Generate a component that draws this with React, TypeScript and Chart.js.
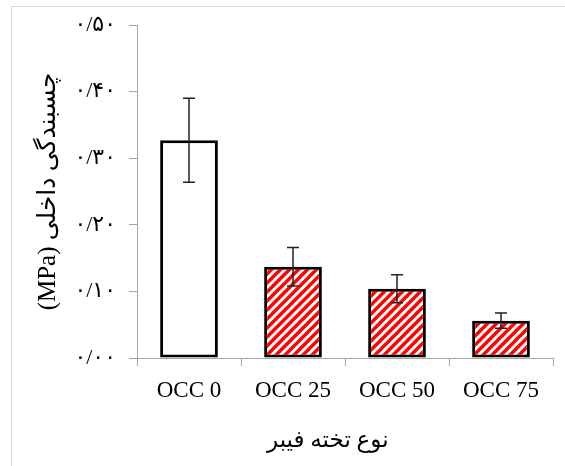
import React, { useEffect, useRef } from "react";
import { Chart, registerables } from "chart.js";

Chart.register(...registerables);

const categories = ["OCC 0", "OCC 25", "OCC 50", "OCC 75"];
const values = [0.327, 0.137, 0.104, 0.056];
const errors = [0.063, 0.029, 0.021, 0.0115];
const yTickLabels = ["۰/۰۰", "۰/۱۰", "۰/۲۰", "۰/۳۰", "۰/۴۰", "۰/۵۰"];
const yTitle = "چسبندگی داخلی (MPa)";
const xTitle = "نوع تخته فیبر";

const FONT = "'Times New Roman', 'Liberation Serif', 'DejaVu Sans', serif";

function makeHatch(): CanvasPattern | string {
  const s = 9;
  const c = document.createElement("canvas");
  c.width = s;
  c.height = s;
  const g = c.getContext("2d");
  if (!g) return "#ff0000";
  g.fillStyle = "#ffffff";
  g.fillRect(0, 0, s, s);
  g.strokeStyle = "#ff0000";
  g.lineWidth = 3.4;
  g.lineCap = "square";
  g.beginPath();
  g.moveTo(-2, s + 2);
  g.lineTo(s + 2, -2);
  g.moveTo(-3, 3);
  g.lineTo(3, -3);
  g.moveTo(s - 3, s + 3);
  g.lineTo(s + 3, s - 3);
  g.stroke();
  const p = g.createPattern(c, "repeat");
  return p || "#ff0000";
}

const errorBarPlugin = {
  id: "errorBars",
  afterDatasetsDraw(chart: any) {
    const ctx = chart.ctx;
    const meta = chart.getDatasetMeta(0);
    const y = chart.scales.y;
    ctx.save();
    ctx.strokeStyle = "#222222";
    ctx.lineWidth = 1.5;
    meta.data.forEach((bar: any, i: number) => {
      const x = bar.x;
      const yHi = y.getPixelForValue(values[i] + errors[i]);
      const yLo = y.getPixelForValue(values[i] - errors[i]);
      const cap = 6;
      ctx.beginPath();
      ctx.moveTo(x, yHi);
      ctx.lineTo(x, yLo);
      ctx.moveTo(x - cap, yHi);
      ctx.lineTo(x + cap, yHi);
      ctx.moveTo(x - cap, yLo);
      ctx.lineTo(x + cap, yLo);
      ctx.stroke();
    });
    ctx.restore();
  },
};

export default function App() {
  const ref = useRef<HTMLCanvasElement>(null);

  useEffect(() => {
    if (!ref.current) return;
    const hatch = makeHatch();
    const chart = new Chart(ref.current, {
      type: "bar",
      data: {
        labels: categories,
        datasets: [
          {
            data: values,
            backgroundColor: values.map((_, i) => (i === 0 ? "#ffffff" : hatch)) as any,
            borderColor: "#000000",
            borderWidth: 3,
            borderSkipped: false,
            categoryPercentage: 1,
            barPercentage: 0.555,
          },
        ],
      },
      options: {
        animation: false,
        responsive: false,
        layout: { padding: { left: 0, right: 12, top: 18, bottom: 0 } },
        plugins: {
          legend: { display: false },
          tooltip: { enabled: false },
        },
        scales: {
          x: {
            afterFit: (scale: any) => {
              scale.height = 108;
            },
            grid: {
              drawOnChartArea: false,
              drawTicks: true,
              tickLength: 8,
              color: "#a6a6a6",
              lineWidth: 1,
            },
            border: { color: "#a6a6a6", width: 1 },
            ticks: {
              color: "#000000",
              padding: 11,
              maxRotation: 0,
              font: { family: FONT, size: 23 },
            },
            title: {
              display: true,
              text: xTitle + "\u00A0\u00A0\u00A0\u00A0\u00A0\u00A0",
              color: "#000000",
              font: { family: FONT, size: 23 },
              padding: { top: 0, bottom: 11 },
            },
          },
          y: {
            min: 0,
            max: 0.5,
            afterFit: (scale: any) => {
              scale.width = 125;
              scale.paddingTop = 0;
              scale.paddingBottom = 0;
            },
            grid: {
              drawOnChartArea: false,
              drawTicks: true,
              tickLength: 8,
              color: "#a6a6a6",
              lineWidth: 1,
            },
            border: { color: "#a6a6a6", width: 1 },
            ticks: {
              stepSize: 0.1,
              color: "#000000",
              padding: 13,
              font: { family: FONT, size: 22 },
              callback: (_v: any, i: number) => yTickLabels[i],
            },
            title: {
              display: true,
              text: "\u202B" + yTitle + "\u202C",
              color: "#000000",
              font: { family: FONT, size: 25 },
              padding: { top: 21, bottom: 0 },
            },
          },
        },
      },
      plugins: [errorBarPlugin],
    });
    return () => chart.destroy();
  }, []);

  return (
    <div
      style={{
        position: "absolute",
        left: 11,
        top: 6,
        width: 554,
        height: 460,
        boxSizing: "border-box",
        borderLeft: "1px solid #d9d9d9",
        borderTop: "1px solid #d9d9d9",
        background: "#ffffff",
      }}
    >
      <canvas ref={ref} width={553} height={459} style={{ display: "block" }} />
    </div>
  );
}
